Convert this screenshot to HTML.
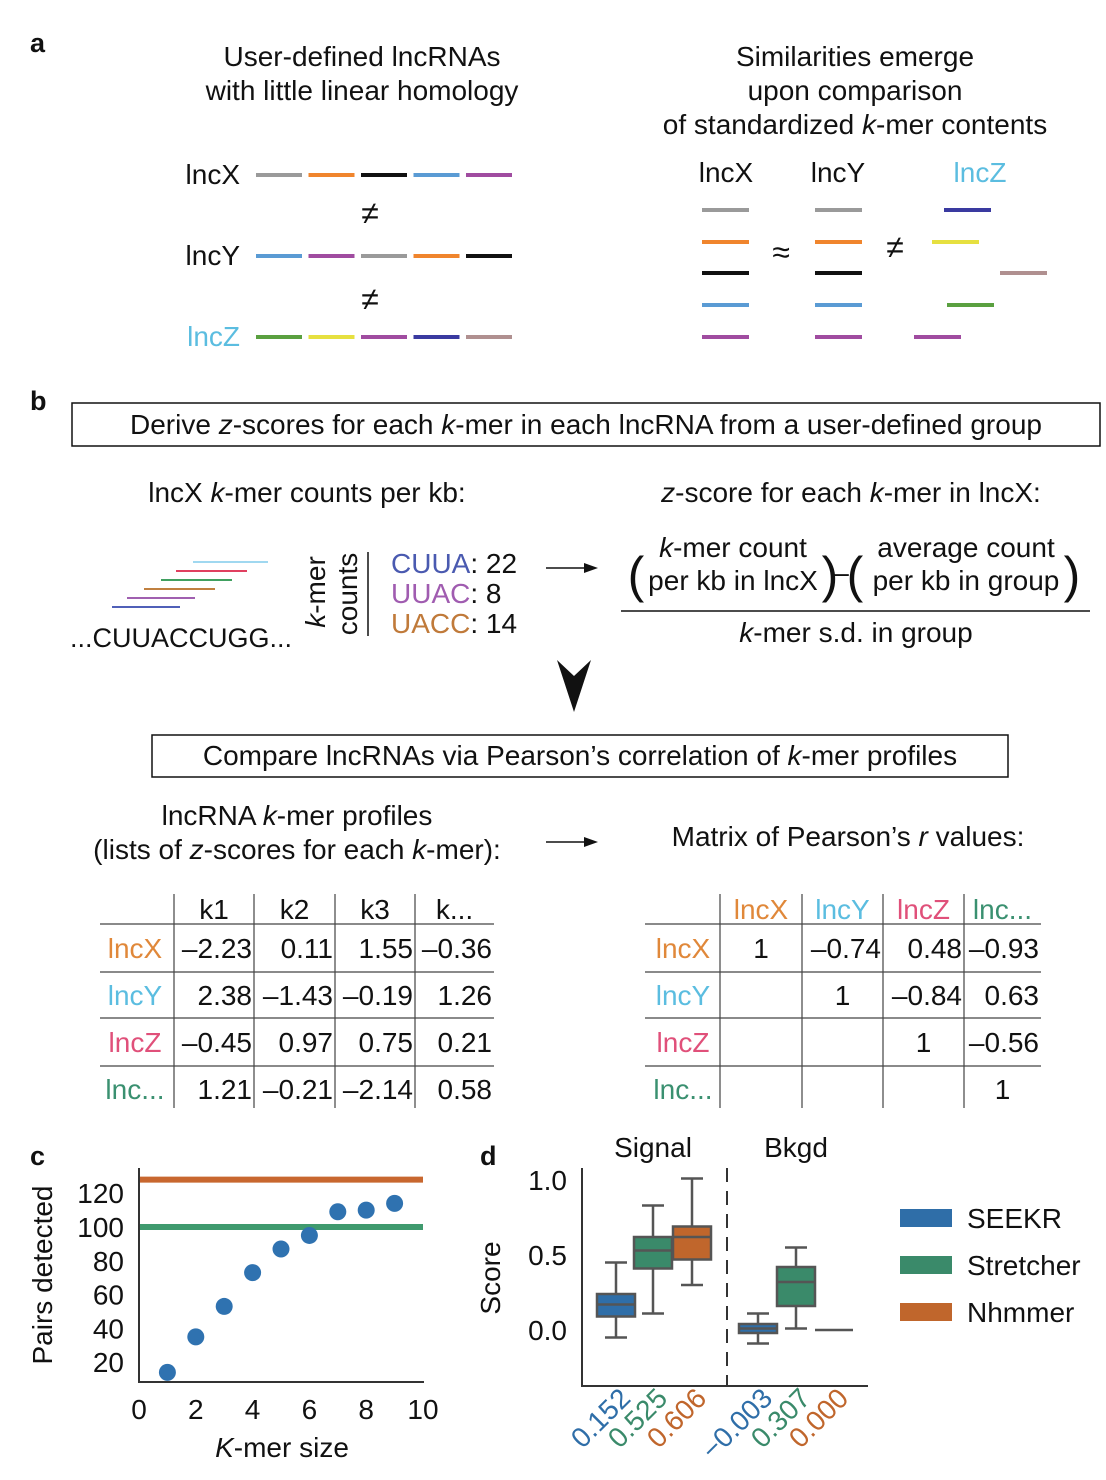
<!DOCTYPE html>
<html><head><meta charset="utf-8"><style>
body{margin:0;background:#fff}
svg{display:block;font-family:"Liberation Sans",Arial,sans-serif}
</style></head><body>
<svg id="fig" width="1106" height="1480" viewBox="0 0 1106 1480" xmlns="http://www.w3.org/2000/svg">
<g font-size="28" fill="#111">
<!-- panel a -->
<text x="30" y="52" font-weight="bold" font-size="27">a</text>
<text x="362" y="66" text-anchor="middle">User-defined lncRNAs</text>
<text x="362" y="100" text-anchor="middle">with little linear homology</text>
<text x="855" y="66" text-anchor="middle">Similarities emerge</text>
<text x="855" y="100" text-anchor="middle">upon comparison</text>
<text x="855" y="134" text-anchor="middle">of standardized <tspan font-style="italic">k</tspan>-mer contents</text>
<text x="240" y="184" text-anchor="end">lncX</text>
<text x="240" y="265" text-anchor="end">lncY</text>
<text x="240" y="346" text-anchor="end" fill="#5bbde0">lncZ</text>
<text x="370" y="224" text-anchor="middle" font-size="32">≠</text>
<text x="370" y="310" text-anchor="middle" font-size="32">≠</text>
<g id="segsA" stroke-width="4"></g>
<text x="726" y="182" text-anchor="middle">lncX</text>
<text x="838" y="182" text-anchor="middle">lncY</text>
<text x="980" y="182" text-anchor="middle" fill="#5bbde0">lncZ</text>
<text x="781" y="263" text-anchor="middle" font-size="32">≈</text>
<text x="895" y="258" text-anchor="middle" font-size="32">≠</text>

<!-- panel b -->
<text x="30" y="410" font-weight="bold" font-size="27">b</text>
<rect x="72" y="403" width="1028" height="43" fill="none" stroke="#111" stroke-width="1.5"/>
<text x="586" y="434" text-anchor="middle">Derive <tspan font-style="italic">z</tspan>-scores for each <tspan font-style="italic">k</tspan>-mer in each lncRNA from a user-defined group</text>
<text x="307" y="502" text-anchor="middle">lncX <tspan font-style="italic">k</tspan>-mer counts per kb:</text>
<text x="851" y="502" text-anchor="middle"><tspan font-style="italic">z</tspan>-score for each <tspan font-style="italic">k</tspan>-mer in lncX:</text>
<g stroke-width="2">
<line x1="112" y1="607" x2="180" y2="607" stroke="#5060b8"/>
<line x1="127" y1="598" x2="195" y2="598" stroke="#a060b0"/>
<line x1="144" y1="589" x2="215" y2="589" stroke="#c08040"/>
<line x1="161" y1="580" x2="232" y2="580" stroke="#40a060"/>
<line x1="176" y1="571" x2="247" y2="571" stroke="#e04060"/>
<line x1="193" y1="562" x2="268" y2="562" stroke="#a0d8f0"/>
</g>
<text x="70" y="647" font-size="27">...CUUACCUGG...</text>
<text transform="translate(325,592) rotate(-90)" text-anchor="middle"><tspan font-style="italic">k</tspan>-mer</text>
<text transform="translate(357,594) rotate(-90)" text-anchor="middle">counts</text>
<line x1="368" y1="552" x2="368" y2="636" stroke="#111" stroke-width="1.5"/>
<text x="391" y="573"><tspan fill="#4a5ab0">CUUA</tspan>: 22</text>
<text x="391" y="603"><tspan fill="#a05cb0">UUAC</tspan>: 8</text>
<text x="391" y="633"><tspan fill="#c07a3a">UACC</tspan>: 14</text>
<line x1="546" y1="568" x2="592" y2="568" stroke="#111" stroke-width="1.5"/>
<polygon points="598,568 584,563 584,573" fill="#111"/>
<text x="636" y="592" font-size="50" text-anchor="middle">(</text>
<text x="733" y="557" text-anchor="middle"><tspan font-style="italic">k</tspan>-mer count</text>
<text x="733" y="590" text-anchor="middle">per kb in lncX</text>
<text x="830" y="592" font-size="50" text-anchor="middle">)</text>
<text x="841" y="582" text-anchor="middle">–</text>
<text x="855" y="592" font-size="50" text-anchor="middle">(</text>
<text x="966" y="557" text-anchor="middle">average count</text>
<text x="966" y="590" text-anchor="middle">per kb in group</text>
<text x="1072" y="592" font-size="50" text-anchor="middle">)</text>
<line x1="621" y1="611" x2="1090" y2="611" stroke="#111" stroke-width="1.5"/>
<text x="856" y="642" text-anchor="middle"><tspan font-style="italic">k</tspan>-mer s.d. in group</text>
<polygon points="574,712 557,660 574,676 591,660" fill="#111"/>
<rect x="152" y="735" width="856" height="42" fill="none" stroke="#111" stroke-width="1.5"/>
<text x="580" y="765" text-anchor="middle">Compare lncRNAs via Pearson’s correlation of <tspan font-style="italic">k</tspan>-mer profiles</text>
<text x="297" y="825" text-anchor="middle">lncRNA <tspan font-style="italic">k</tspan>-mer profiles</text>
<text x="297" y="859" text-anchor="middle">(lists of <tspan font-style="italic">z</tspan>-scores for each <tspan font-style="italic">k</tspan>-mer):</text>
<line x1="546" y1="842" x2="592" y2="842" stroke="#111" stroke-width="1.5"/>
<polygon points="598,842 584,837 584,847" fill="#111"/>
<text x="848" y="846" text-anchor="middle">Matrix of Pearson’s <tspan font-style="italic">r</tspan> values:</text>
<g id="tables"></g>

<!-- panel c -->
<text x="30" y="1165" font-weight="bold" font-size="27">c</text>
<g id="chartC"></g>
<!-- panel d -->
<text x="480" y="1165" font-weight="bold" font-size="27">d</text>
<g id="chartD"></g>
</g>
</svg>
<script>
// ---------- panel c data ----------
const kmerSizes = [1, 2, 3, 4, 5, 6, 7, 8, 9];
const pairsDetected = [14, 35, 53, 73, 87, 95, 109, 110, 114];
const nhmmerPairs = 128;
const stretcherPairs = 100;
const cYTicks = [20, 40, 60, 80, 100, 120];
const cXTicks = [0, 2, 4, 6, 8, 10];
// ---------- panel d data ----------
const methods = ['SEEKR', 'Stretcher', 'Nhmmer'];
const groups = ['Signal', 'Bkgd'];
// [whiskerLow, q1, median, q3, whiskerHigh]
const signalBoxes = [[-0.05, 0.09, 0.17, 0.24, 0.45], [0.11, 0.41, 0.53, 0.62, 0.83], [0.30, 0.47, 0.62, 0.69, 1.01]];
const bkgdBoxes = [[-0.09, -0.02, 0.01, 0.04, 0.11], [0.01, 0.16, 0.32, 0.42, 0.55], [0, 0, 0, 0, 0]];
const signalMedLabels = ['0.152', '0.525', '0.606'];
const bkgdMedLabels = ['−0.003', '0.307', '0.000'];
const dYTicks = [0.0, 0.5, 1.0];

const NS = 'http://www.w3.org/2000/svg';
function mk(parent, tag, attrs, text) {
  const e = document.createElementNS(NS, tag);
  for (const k in attrs) e.setAttribute(k, attrs[k]);
  if (text !== undefined) e.textContent = text;
  parent.appendChild(e);
  return e;
}

const segs = document.getElementById('segsA');
const C = {gray:'#9a9a9a', orange:'#f0852d', black:'#111', blue:'#5a9bd4', purple:'#a04ca0', green:'#5aa040', yellow:'#e6e040', navy:'#3a3aa0', mauve:'#b09090'};
const rowsA = [[175, ['gray','orange','black','blue','purple']], [256, ['blue','purple','gray','orange','black']], [337, ['green','yellow','purple','navy','mauve']]];
rowsA.forEach(([y, cols]) => cols.forEach((c, i) => {
  const l = mk(segs, 'line', {x1: 256 + i * 52.5, x2: 302 + i * 52.5, y1: y, y2: y, stroke: C[c]});
  
  
}));
const rightSegs = [[702, 210, 'gray'], [702, 242, 'orange'], [702, 273, 'black'], [702, 305, 'blue'], [702, 337, 'purple'],
  [815, 210, 'gray'], [815, 242, 'orange'], [815, 273, 'black'], [815, 305, 'blue'], [815, 337, 'purple'],
  [944, 210, 'navy'], [932, 242, 'yellow'], [1000, 273, 'mauve'], [947, 305, 'green'], [914, 337, 'purple']];
rightSegs.forEach(([x, y, c]) => {
  const l = mk(segs, 'line', {x1: x, x2: x + 47, y1: y, y2: y, stroke: C[c]});
  
  
});

const T = document.getElementById('tables');
const rowLab = ['lncX', 'lncY', 'lncZ', 'lnc...'];
const rowCol = ['#e0883a', '#5bbde0', '#e0507a', '#3a9070'];
const leftVals = [['–2.23', '0.11', '1.55', '–0.36'], ['2.38', '–1.43', '–0.19', '1.26'], ['–0.45', '0.97', '0.75', '0.21'], ['1.21', '–0.21', '–2.14', '0.58']];
const rightVals = [['1', '–0.74', '0.48', '–0.93'], ['', '1', '–0.84', '0.63'], ['', '', '1', '–0.56'], ['', '', '', '1']];
function table(x0, cols, xEnd, headers, hColors, vals, labCx) {
  [924, 972, 1018, 1066].forEach(y => mk(T, 'line', {x1: x0, x2: xEnd, y1: y, y2: y, stroke: '#444', 'stroke-width': 1.2}));
  cols.forEach(x => mk(T, 'line', {x1: x, x2: x, y1: 894, y2: 1108, stroke: '#444', 'stroke-width': 1.2}));
  const edges = cols.concat([xEnd]);
  headers.forEach((h, i) => {
    const t = mk(T, 'text', {x: (edges[i] + edges[i + 1]) / 2, y: 919, 'text-anchor': 'middle', fill: hColors[i]}, h);
    
    
  });
  rowLab.forEach((r, j) => {
    const y = 958 + j * 47;
    const t = mk(T, 'text', {x: labCx, y: y, 'text-anchor': 'middle', fill: rowCol[j]}, r);
    
    
    vals[j].forEach((v, i) => {
      const center = v === '1' && headers[0] !== 'k1';
      const c = mk(T, 'text', {x: center ? (edges[i] + edges[i + 1]) / 2 : edges[i + 1] - 2, y: y, 'text-anchor': center ? 'middle' : 'end'}, v);
      
      
    });
  });
}
table(100, [174, 254, 335, 415], 494, ['k1', 'k2', 'k3', 'k...'], ['#111', '#111', '#111', '#111'], leftVals, 135);
table(645, [720, 802, 883, 964], 1041, rowLab, rowCol, rightVals, 683);

// panel c chart
const gc = document.getElementById('chartC');
const cx = v => 139 + v * 28.4;
const cy = v => 1396 - v * 1.69;
mk(gc, 'line', {x1: 139, x2: 139, y1: 1168, y2: 1383, stroke: '#333', 'stroke-width': 2});
mk(gc, 'line', {x1: 138, x2: 424, y1: 1382, y2: 1382, stroke: '#333', 'stroke-width': 2});
const nh = mk(gc, 'line', {x1: 140, x2: 423, y1: cy(nhmmerPairs), y2: cy(nhmmerPairs), stroke: '#c8672f', 'stroke-width': 6});


const st = mk(gc, 'line', {x1: 140, x2: 423, y1: cy(stretcherPairs), y2: cy(stretcherPairs), stroke: '#3f9a6e', 'stroke-width': 6});


kmerSizes.forEach((k, i) => {
  const p = mk(gc, 'circle', {cx: cx(k), cy: cy(pairsDetected[i]), r: 8.5, fill: '#2f72b0'});
  
  
});
cYTicks.forEach(v => {
  const t = mk(gc, 'text', {x: 124, y: cy(v) + 10, 'text-anchor': 'end'}, v);
  
  
});
cXTicks.forEach(v => {
  const t = mk(gc, 'text', {x: cx(v), y: 1419, 'text-anchor': 'middle'}, v);
  
  
});
const yt = mk(gc, 'text', {transform: 'translate(52,1275) rotate(-90)', 'text-anchor': 'middle'}, 'Pairs detected');


const xt = mk(gc, 'text', {x: 282, y: 1457, 'text-anchor': 'middle'});


mk(xt, 'tspan', {'font-style': 'italic'}, 'K');
mk(xt, 'tspan', {}, '-mer size');

// panel d chart
const gd = document.getElementById('chartD');
const dy = v => 1330 - v * 150;
const colors = ['#2f6ea8', '#3a8a6a', '#c0662c'];
const centers = [[616, 653, 692], [758, 796, 834]];
mk(gd, 'line', {x1: 582, x2: 582, y1: 1168, y2: 1387, stroke: '#333', 'stroke-width': 2});
mk(gd, 'line', {x1: 581, x2: 868, y1: 1386, y2: 1386, stroke: '#333', 'stroke-width': 2});
const dl = mk(gd, 'line', {x1: 727, x2: 727, y1: 1168, y2: 1386, stroke: '#333', 'stroke-width': 2, 'stroke-dasharray': '14,9'});


dYTicks.forEach(v => {
  const t = mk(gd, 'text', {x: 567, y: dy(v) + 10, 'text-anchor': 'end'}, v.toFixed(1));
  
  
});
const sc = mk(gd, 'text', {transform: 'translate(500,1278) rotate(-90)', 'text-anchor': 'middle'}, 'Score');


groups.forEach((g, gi) => {
  const t = mk(gd, 'text', {x: gi ? 796 : 653, y: 1157, 'text-anchor': 'middle'}, g);
  
  
});
[signalBoxes, bkgdBoxes].forEach((boxes, gi) => {
  const labels = gi ? bkgdMedLabels : signalMedLabels;
  boxes.forEach((b, i) => {
    const x = centers[gi][i], w = 38;
    const g = mk(gd, 'g', {stroke: '#555', 'stroke-width': 2.5});
    
    
    if (b[4] - b[0] < 0.001) {
      mk(g, 'line', {x1: x - w / 2, x2: x + w / 2, y1: dy(b[2]), y2: dy(b[2])});
    } else {
      mk(g, 'line', {x1: x, x2: x, y1: dy(b[4]), y2: dy(b[0])});
      mk(g, 'line', {x1: x - 11, x2: x + 11, y1: dy(b[4]), y2: dy(b[4])});
      mk(g, 'line', {x1: x - 11, x2: x + 11, y1: dy(b[0]), y2: dy(b[0])});
      mk(g, 'rect', {x: x - w / 2, y: dy(b[3]), width: w, height: dy(b[1]) - dy(b[3]), fill: colors[i]});
      mk(g, 'line', {x1: x - w / 2, x2: x + w / 2, y1: dy(b[2]), y2: dy(b[2])});
    }
    const t = mk(gd, 'text', {transform: 'translate(' + (x + 16) + ',1400) rotate(-45)', 'text-anchor': 'end', fill: colors[i]}, labels[i]);
    
    
  });
});
methods.forEach((m, i) => {
  const y = 1218 + i * 47;
  const r = mk(gd, 'rect', {x: 900, y: y - 9, width: 52, height: 18, fill: colors[i]});
  
  
  const t = mk(gd, 'text', {x: 967, y: y + 10}, m);
  
  
});
</script>
</body></html>
